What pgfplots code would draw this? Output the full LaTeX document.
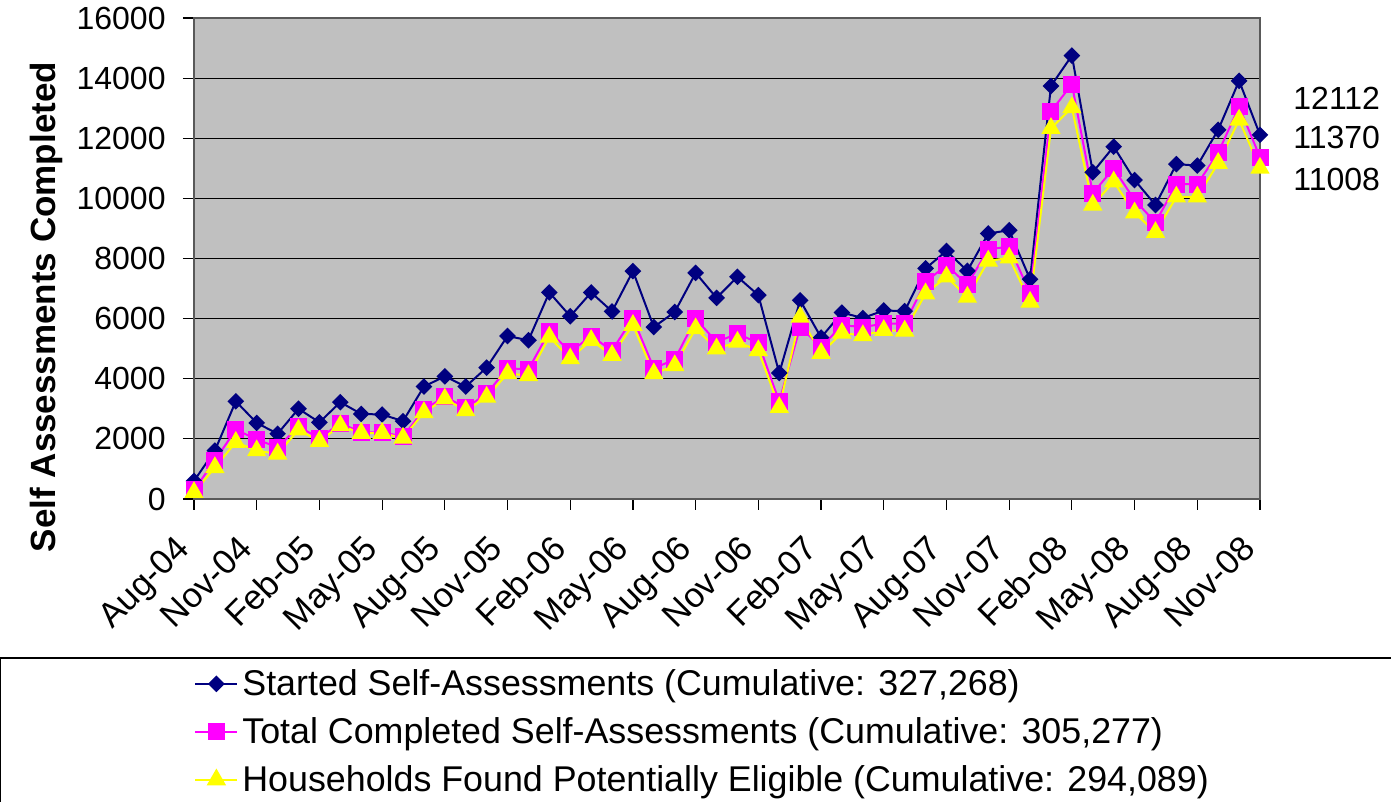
\documentclass[border=0pt]{standalone}
\usepackage{fontspec}
\setmainfont{Liberation Sans}
\usepackage{pgfplots}
\pgfplotsset{compat=1.18}
\definecolor{navy}{RGB}{0,0,128}
\definecolor{plotgray}{RGB}{192,192,192}
\definecolor{mag}{RGB}{255,0,255}
\definecolor{yel}{RGB}{255,255,0}
\begin{document}
\begin{tikzpicture}
\useasboundingbox (0,0) rectangle (695.5pt,401pt);
\begin{axis}[
  at={(97pt,151.5pt)}, anchor=south west,
  scale only axis, width=533pt, height=240.5pt,
  xmin=0, xmax=51, ymin=0, ymax=16000,
  scaled y ticks=false,
  axis background/.style={fill=plotgray},
  xtick={0,3,...,51},
  xticklabels={Aug-04,Nov-04,Feb-05,May-05,Aug-05,Nov-05,Feb-06,May-06,Aug-06,Nov-06,Feb-07,May-07,Aug-07,Nov-07,Feb-08,May-08,Aug-08,Nov-08},
  ytick={0,2000,...,16000},
  ymajorgrids, major grid style={black, line width=0.6pt},
  tick align=outside, major tick length=5.5pt,
  xtick pos=left, ytick pos=left,
  tick style={black, line width=0.6pt},
  axis line style={draw=black!65, line width=0.8pt},
  ticklabel style={font=\fontsize{16}{19}\selectfont},
  /pgf/number format/assume math mode=true,
  /pgf/number format/1000 sep={},
  xticklabel style={xshift=-10pt, yshift=-11.5pt, rotate=45, anchor=north east, inner sep=0pt, font=\fontsize{17.3}{20}\selectfont},
  yticklabel style={anchor=east, inner sep=0pt, xshift=-8.5pt},
  legend style={at={(axis description cs:0,-0.345)}, anchor=north west, draw=none, fill=none,
    font=\fontsize{17.9}{21}\selectfont, row sep=5.5pt, inner sep=0pt,
    /tikz/every even column/.append style={column sep=3.5pt}},
  legend cell align=left,
  legend image code/.code={\draw[mark repeat=2,mark phase=2,#1] plot coordinates {(0pt,0pt) (10.5pt,0pt) (21pt,0pt)};},
]
\addplot[navy, line width=1pt, mark=square*, mark size=2.45pt, mark options={rotate=45, fill=navy, draw=navy}] coordinates {
(0,600)(1,1610)(2,3250)(3,2530)(4,2170)(5,3000)(6,2550)(7,3220)(8,2830)(9,2810)
(10,2590)(11,3740)(12,4080)(13,3740)(14,4370)(15,5420)(16,5280)(17,6870)(18,6080)(19,6870)
(20,6240)(21,7580)(22,5720)(23,6220)(24,7520)(25,6690)(26,7390)(27,6780)(28,4190)(29,6610)
(30,5370)(31,6200)(32,6020)(33,6270)(34,6250)(35,7670)(36,8250)(37,7590)(38,8830)(39,8940)
(40,7310)(41,13740)(42,14750)(43,10870)(44,11720)(45,10610)(46,9780)(47,11140)(48,11090)(49,12280)
(50,13910)(51,12112)};
\addlegendentry{Started Self-Assessments (Cumulative: 327,268)}
\addplot[mag, line width=1pt, mark=square*, mark size=3.75pt, mark options={fill=mag, draw=mag}] coordinates {
(0,300)(1,1280)(2,2310)(3,1980)(4,1720)(5,2410)(6,2020)(7,2520)(8,2220)(9,2220)
(10,2080)(11,2970)(12,3410)(13,3030)(14,3500)(15,4350)(16,4310)(17,5580)(18,4890)(19,5420)
(20,4940)(21,6020)(22,4350)(23,4640)(24,6000)(25,5220)(26,5500)(27,5190)(28,3240)(29,5720)
(30,5050)(31,5780)(32,5720)(33,5830)(34,5830)(35,7220)(36,7780)(37,7130)(38,8310)(39,8390)
(40,6850)(41,12890)(42,13800)(43,10170)(44,11000)(45,9940)(46,9200)(47,10470)(48,10470)(49,11520)
(50,13050)(51,11370)};
\addlegendentry{Total Completed Self-Assessments (Cumulative: 305,277)}
\addplot[yel, line width=1pt, mark=triangle*, mark size=4.6pt, mark options={fill=yel, draw=yel}] coordinates {
(0,220)(1,1050)(2,1890)(3,1610)(4,1500)(5,2300)(6,1920)(7,2440)(8,2190)(9,2190)
(10,2030)(11,2880)(12,3330)(13,2940)(14,3390)(15,4170)(16,4110)(17,5390)(18,4670)(19,5280)
(20,4780)(21,5780)(22,4170)(23,4440)(24,5670)(25,5000)(26,5220)(27,4940)(28,3050)(29,6050)
(30,4850)(31,5520)(32,5440)(33,5610)(34,5590)(35,6830)(36,7390)(37,6720)(38,7920)(39,8020)
(40,6550)(41,12330)(42,13020)(43,9780)(44,10550)(45,9520)(46,8870)(47,10050)(48,10050)(49,11170)
(50,12610)(51,11008)};
\addlegendentry{Households Found Potentially Eligible (Cumulative: 294,089)}
\end{axis}
\node[anchor=west, inner sep=0pt, font=\fontsize{16}{19}\selectfont] at (646.5pt,352pt) {12112};
\node[anchor=west, inner sep=0pt, font=\fontsize{16}{19}\selectfont] at (646.5pt,332.5pt) {11370};
\node[anchor=west, inner sep=0pt, font=\fontsize{16}{19}\selectfont] at (646.5pt,311.5pt) {11008};
\node[rotate=90, anchor=base, inner sep=0pt, font=\bfseries\fontsize{17.5}{21}\selectfont] at (27.5pt,247.5pt) {Self Assessments Completed};
\draw[black, line width=0.6pt] (0.3pt,-5pt) -- (0.3pt,72pt) -- (700pt,72pt);
\end{tikzpicture}
\end{document}
